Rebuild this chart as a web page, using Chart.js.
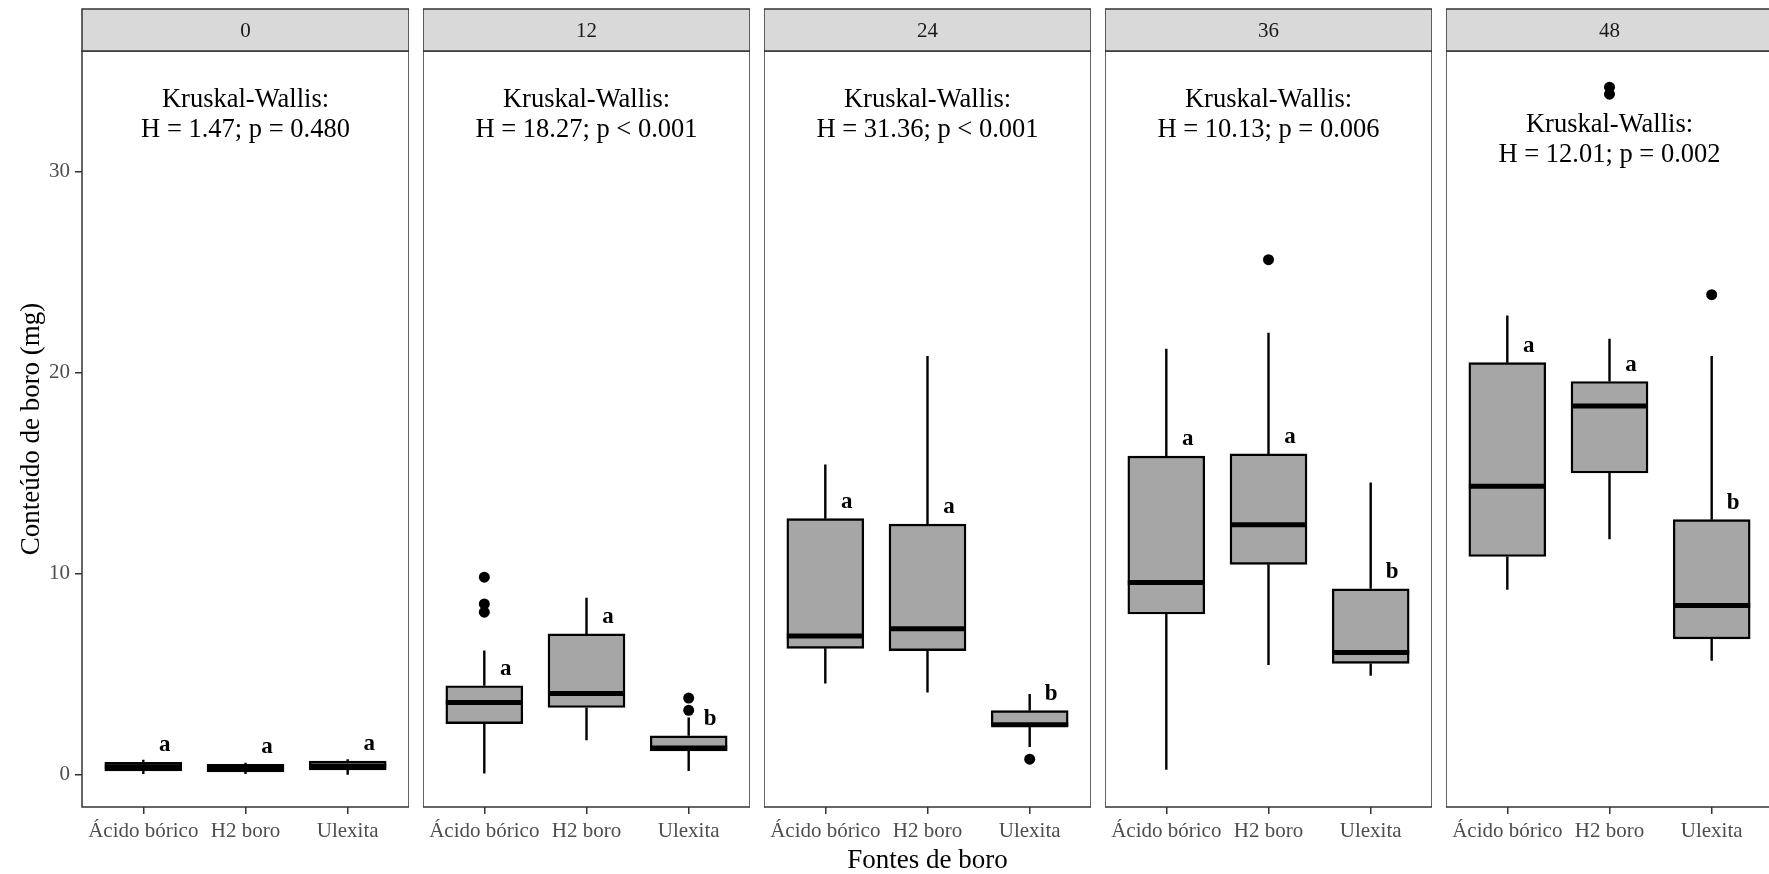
<!DOCTYPE html>
<html>
<head>
<meta charset="utf-8">
<script src="https://cdn.jsdelivr.net/npm/chart.js@4.4.1/dist/chart.umd.min.js"></script>
<style>
  html, body { margin: 0; padding: 0; background: #fff; }
  #wrap { position: relative; width: 1769px; height: 874px; overflow: hidden; background: #fff; }
  #wrap canvas { position: absolute; top: 0; }
</style>
</head>
<body>
<div id="wrap"></div>
<script>
// facets (hours) and groups
const panels = ['0', '12', '24', '36', '48'];
const categories = ['Ácido bórico', 'H2 boro', 'Ulexita'];

// box statistics per panel: [Ácido bórico, H2 boro, Ulexita]
const whiskerLow  = [[0.04, 0.04, 0.00], [0.06, 1.72, 0.19], [4.54, 4.10, 1.39], [0.25, 5.46, 4.93], [9.20, 11.72, 5.68]];
const q1          = [[0.20, 0.15, 0.24], [2.55, 3.35, 1.19], [6.29, 6.18, 2.41], [8.00, 10.47, 5.54], [10.86, 15.01, 6.76]];
const median      = [[0.40, 0.32, 0.44], [3.60, 4.04, 1.33], [6.90, 7.26, 2.49], [9.56, 12.44, 6.09], [14.35, 18.34, 8.42]];
const q3          = [[0.62, 0.52, 0.69], [4.43, 7.01, 1.94], [12.74, 12.47, 3.19], [15.85, 15.96, 9.25], [20.50, 19.56, 12.69]];
const whiskerHigh = [[0.75, 0.60, 0.78], [6.18, 8.81, 2.85], [15.43, 20.83, 4.02], [21.19, 21.99, 14.54], [22.85, 21.69, 20.83]];
const outliers = [
  [[], [], []],
  [[9.83, 8.50, 8.09], [], [3.82, 3.21]],
  [[], [], [0.78]],
  [[], [25.62], []],
  [[], [34.20, 33.85], [23.88]]
];
const letters = [['a', 'a', 'a'], ['a', 'a', 'b'], ['a', 'a', 'b'], ['a', 'a', 'b'], ['a', 'a', 'b']];

// Kruskal-Wallis results
const kwH = ['1.47', '18.27', '31.36', '10.13', '12.01'];
const kwP = ['= 0.480', '< 0.001', '< 0.001', '= 0.006', '= 0.002'];
const kwLabelY = [33.55, 33.55, 33.55, 33.55, 32.33];

const yTicks = [0, 10, 20, 30];
const yMin = -1.6, yMax = 36.0;

const SERIF = "'Liberation Serif', 'Times New Roman', serif";
const wrap = document.getElementById('wrap');

function facetPlugin(i) {
  return {
    id: 'facet' + i,
    beforeDatasetsDraw(chart) {
      const ctx = chart.ctx, xs = chart.scales.x, ys = chart.scales.y;
      ctx.save();
      ctx.strokeStyle = '#000';
      ctx.lineWidth = 2.4;
      categories.forEach((c, j) => {
        const x = xs.getPixelForValue(j + 1);
        ctx.beginPath();
        ctx.moveTo(x, ys.getPixelForValue(whiskerLow[i][j]));
        ctx.lineTo(x, ys.getPixelForValue(q1[i][j]));
        ctx.moveTo(x, ys.getPixelForValue(q3[i][j]));
        ctx.lineTo(x, ys.getPixelForValue(whiskerHigh[i][j]));
        ctx.stroke();
      });
      ctx.restore();
    },
    afterDatasetsDraw(chart) {
      const ctx = chart.ctx, ys = chart.scales.y;
      const bars = chart.getDatasetMeta(0).data;
      ctx.save();
      ctx.strokeStyle = '#000';
      ctx.lineWidth = 5;
      bars.forEach((bar, j) => {
        const y = ys.getPixelForValue(median[i][j]);
        ctx.beginPath();
        ctx.moveTo(bar.x - bar.width / 2, y);
        ctx.lineTo(bar.x + bar.width / 2, y);
        ctx.stroke();
      });
      ctx.restore();
    },
    afterDraw(chart) {
      const ctx = chart.ctx, a = chart.chartArea, xs = chart.scales.x, ys = chart.scales.y;
      ctx.save();
      // panel border
      ctx.strokeStyle = '#333';
      ctx.lineWidth = 1.5;
      ctx.strokeRect(a.left, a.top, a.right - a.left, a.bottom - a.top);
      // strip
      ctx.fillStyle = '#d9d9d9';
      ctx.fillRect(a.left, 9, a.right - a.left, a.top - 9);
      ctx.strokeRect(a.left, 9, a.right - a.left, a.top - 9);
      ctx.fillStyle = '#1a1a1a';
      ctx.font = '21px ' + SERIF;
      ctx.textAlign = 'center';
      ctx.textBaseline = 'middle';
      const cx = (a.left + a.right) / 2;
      ctx.fillText(panels[i], cx, (9 + a.top) / 2 + 1);
      // Kruskal-Wallis annotation
      ctx.fillStyle = '#000';
      ctx.font = '26.5px ' + SERIF;
      const ly = ys.getPixelForValue(kwLabelY[i]);
      ctx.fillText('Kruskal-Wallis:', cx, ly);
      ctx.fillText('H = ' + kwH[i] + '; p ' + kwP[i], cx, ly + 30);
      // group letters
      ctx.font = 'bold 23px ' + SERIF;
      ctx.textBaseline = 'alphabetic';
      categories.forEach((c, j) => {
        ctx.fillText(letters[i][j], xs.getPixelForValue(j + 1.21), ys.getPixelForValue(q3[i][j]) - 11);
      });
      ctx.restore();
    }
  };
}

panels.forEach((p, i) => {
  const first = i === 0;
  const canvas = document.createElement('canvas');
  const left = first ? 0 : 423 + 341 * (i - 1);
  const width = first ? 409 : 327;
  canvas.width = width;
  canvas.height = 874;
  canvas.style.left = left + 'px';
  canvas.style.width = width + 'px';
  canvas.style.height = '874px';
  wrap.appendChild(canvas);

  const boxData = categories.map((c, j) => ({ x: j + 1, y: [q1[i][j], q3[i][j]] }));
  const pointData = [];
  categories.forEach((c, j) => outliers[i][j].forEach(v => pointData.push({ x: j + 1, y: v })));

  new Chart(canvas, {
    type: 'bar',
    data: {
      datasets: [{
        type: 'bar',
        data: boxData,
        backgroundColor: '#a6a6a6',
        borderColor: '#000',
        borderWidth: 2.4,
        borderSkipped: false,
        barThickness: 77,
        grouped: false
      }, {
        type: 'scatter',
        data: pointData,
        pointRadius: 5.5,
        pointBackgroundColor: '#000',
        pointBorderWidth: 0
      }]
    },
    options: {
      responsive: false,
      animation: false,
      layout: { autoPadding: false, padding: { top: 51, left: 0, right: 0, bottom: 0 } },
      plugins: { legend: { display: false }, tooltip: { enabled: false } },
      scales: {
        x: {
          type: 'linear',
          min: 0.4,
          max: 3.6,
          offset: false,
          afterBuildTicks: s => { s.ticks = categories.map((c, j) => ({ value: j + 1 })); },
          afterFit: s => { s.height = 67; s.paddingLeft = 0; s.paddingRight = 0; },
          ticks: {
            autoSkip: false,
            maxRotation: 0,
            padding: 5,
            color: '#4d4d4d',
            font: { family: SERIF, size: 21 },
            callback: v => categories[v - 1]
          },
          grid: { drawOnChartArea: false, offset: false, tickLength: 7, color: '#333', lineWidth: 1.5 },
          border: { display: false },
          title: {
            display: i === 2,
            text: 'Fontes de boro',
            color: '#000',
            font: { family: SERIF, size: 27, lineHeight: 1 },
            padding: { top: 0, bottom: 0 }
          }
        },
        y: {
          type: 'linear',
          display: first,
          min: yMin,
          max: yMax,
          afterBuildTicks: s => { s.ticks = yTicks.map(v => ({ value: v })); },
          afterFit: s => { s.width = first ? 82 : 0; s.paddingTop = 0; s.paddingBottom = 0; },
          ticks: { padding: 5, color: '#4d4d4d', font: { family: SERIF, size: 21 } },
          grid: { drawOnChartArea: false, tickLength: 7, color: '#333', lineWidth: 1.5 },
          border: { display: false },
          title: {
            display: true,
            text: 'Conteúdo de boro (mg)',
            color: '#000',
            font: { family: SERIF, size: 27 },
            padding: { top: 16, bottom: 0 }
          }
        }
      }
    },
    plugins: [facetPlugin(i)]
  });
});
</script>
</body>
</html>
